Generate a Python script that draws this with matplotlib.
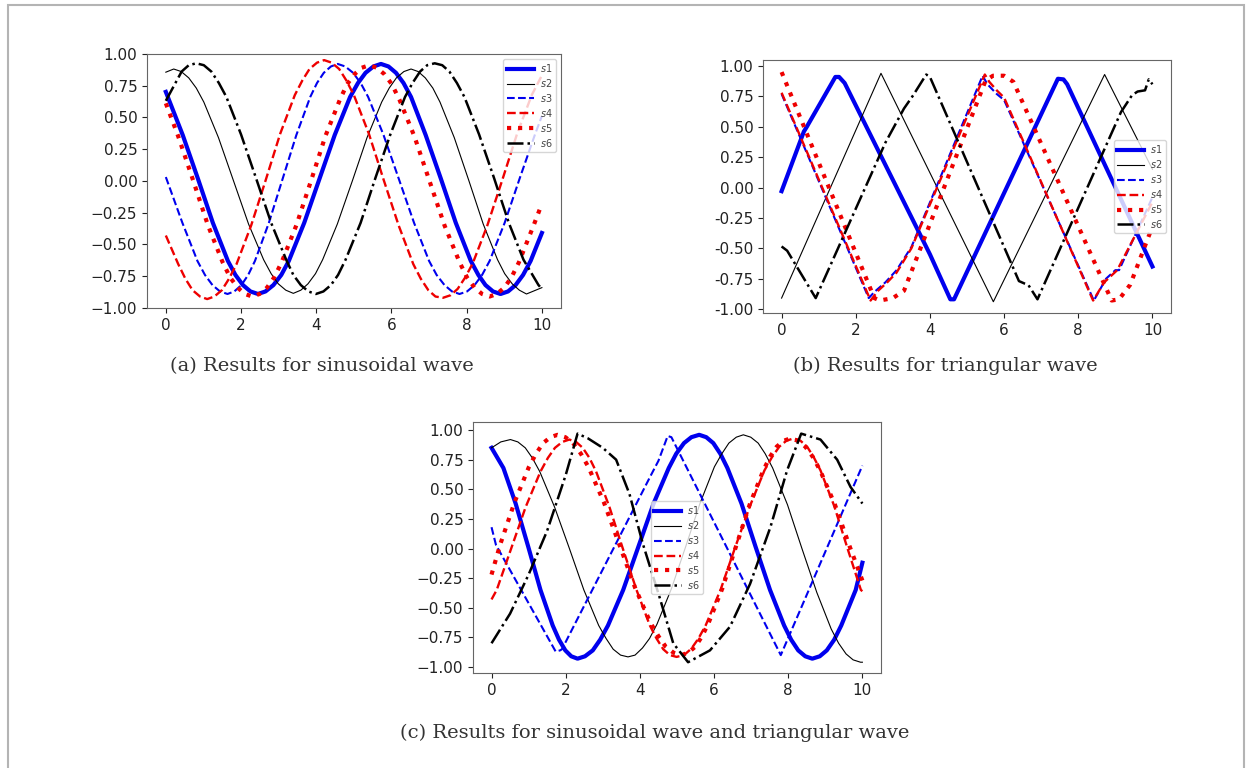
import matplotlib
matplotlib.use('Agg')
import matplotlib.pyplot as plt
from matplotlib.patches import Rectangle
from matplotlib.ticker import FormatStrFormatter

# ---- (a) sinusoidal wave ----
a_s1_x = [0, 0.45, 0.85, 1.25, 1.65, 1.85, 2.05, 2.25, 2.45, 2.65, 2.86, 3.07, 3.27, 3.68, 4.09, 4.49, 4.90,
          5.11, 5.31, 5.52, 5.72, 5.92, 6.12, 6.32, 6.52, 6.91, 7.31, 7.71, 8.11, 8.31, 8.50, 8.70, 8.90,
          9.10, 9.30, 9.50, 9.70, 10.0]
a_s1_y = [0.70, 0.36, 0.02, -0.33, -0.63, -0.74, -0.82, -0.87, -0.89, -0.87, -0.82, -0.74, -0.63, -0.33, 0.02, 0.36, 0.66,
          0.77, 0.85, 0.90, 0.92, 0.90, 0.85, 0.77, 0.66, 0.36, 0.02, -0.33, -0.63, -0.74, -0.82, -0.87, -0.89,
          -0.87, -0.82, -0.74, -0.63, -0.41]
a_s2_x = [0, 0.21, 0.41, 0.61, 0.81, 1.01, 1.40, 1.80, 2.20, 2.60, 2.80, 2.99, 3.19, 3.39, 3.59, 3.78, 3.98,
          4.17, 4.56, 4.96, 5.35, 5.74, 5.94, 6.13, 6.33, 6.52, 6.71, 6.90, 7.10, 7.29, 7.67, 8.06, 8.44,
          8.82, 9.01, 9.21, 9.40, 9.59, 10.0]
a_s2_y = [0.855, 0.88, 0.86, 0.81, 0.73, 0.62, 0.34, 0, -0.34, -0.62, -0.73, -0.81, -0.86, -0.885, -0.86, -0.81, -0.73,
          -0.62, -0.34, 0, 0.34, 0.62, 0.73, 0.81, 0.86, 0.88, 0.86, 0.81, 0.73, 0.62, 0.34, 0, -0.34,
          -0.62, -0.73, -0.81, -0.86, -0.89, -0.84]
a_s3_x = [0, 0.44, 0.84, 1.04, 1.24, 1.44, 1.64, 1.82, 2.01, 2.19, 2.37, 2.74, 3.11, 3.47, 3.84, 4.02, 4.20,
          4.39, 4.57, 4.77, 4.98, 5.18, 5.38, 5.79, 6.19, 6.60, 7.00, 7.20, 7.41, 7.61, 7.81, 8.01, 8.21,
          8.41, 8.61, 9.01, 9.41, 9.81, 10.0]
a_s3_y = [0.03, -0.33, -0.63, -0.74, -0.82, -0.87, -0.89, -0.87, -0.82, -0.74, -0.63, -0.33, 0.02, 0.36, 0.66, 0.77, 0.85,
          0.90, 0.92, 0.90, 0.85, 0.77, 0.66, 0.36, 0.02, -0.33, -0.63, -0.74, -0.82, -0.87, -0.89, -0.87, -0.82,
          -0.74, -0.63, -0.33, 0.02, 0.36, 0.51]
a_s4_x = [0, 0.33, 0.52, 0.71, 0.91, 1.10, 1.29, 1.49, 1.68, 1.88, 2.27, 2.66, 3.04, 3.43, 3.63, 3.82, 4.02,
          4.21, 4.41, 4.61, 4.80, 5.00, 5.40, 5.79, 6.19, 6.58, 6.78, 6.98, 7.17, 7.37, 7.57, 7.76, 7.96,
          8.16, 8.55, 8.95, 9.34, 9.73, 10.0]
a_s4_y = [-0.43, -0.655, -0.77, -0.86, -0.91, -0.93, -0.91, -0.86, -0.77, -0.655, -0.35, 0.01, 0.37, 0.675, 0.79, 0.88, 0.93,
          0.95, 0.93, 0.88, 0.79, 0.675, 0.37, 0.01, -0.35, -0.655, -0.77, -0.86, -0.91, -0.92, -0.90, -0.85, -0.76,
          -0.65, -0.35, 0.01, 0.37, 0.675, 0.83]
a_s5_x = [0, 0.33, 0.73, 1.12, 1.51, 1.71, 1.91, 2.10, 2.30, 2.49, 2.69, 2.88, 3.08, 3.47, 3.86, 4.24, 4.63,
          4.82, 5.02, 5.21, 5.41, 5.61, 5.81, 6.01, 6.21, 6.61, 7.01, 7.41, 7.81, 8.01, 8.21, 8.41, 8.61,
          8.80, 9.00, 9.19, 9.39, 9.78, 10.0]
a_s5_y = [0.61, 0.35, 0, -0.35, -0.64, -0.76, -0.84, -0.89, -0.91, -0.89, -0.84, -0.76, -0.64, -0.35, 0, 0.35, 0.64,
          0.76, 0.84, 0.89, 0.91, 0.89, 0.84, 0.76, 0.64, 0.35, 0, -0.35, -0.64, -0.76, -0.84, -0.89, -0.91,
          -0.89, -0.84, -0.76, -0.64, -0.35, -0.18]
a_s6_x = [0, 0.42, 0.61, 0.81, 1.01, 1.21, 1.41, 1.61, 2.00, 2.40, 2.80, 3.20, 3.39, 3.59, 3.79, 3.99, 4.19,
          4.39, 4.58, 4.78, 5.18, 5.57, 5.97, 6.36, 6.56, 6.76, 6.95, 7.15, 7.35, 7.54, 7.74, 7.94, 8.33,
          8.73, 9.12, 9.51, 9.91, 10.0]
a_s6_y = [0.63, 0.86, 0.91, 0.925, 0.91, 0.86, 0.77, 0.66, 0.365, 0.02, -0.33, -0.62, -0.74, -0.82, -0.87, -0.89, -0.87,
          -0.82, -0.74, -0.62, -0.33, 0.02, 0.365, 0.66, 0.77, 0.86, 0.91, 0.925, 0.91, 0.86, 0.77, 0.66, 0.365,
          0.02, -0.33, -0.62, -0.82, -0.85]

# ---- (b) triangular wave ----
b_s1_x = [0, 0.6, 0.68, 1.45, 1.55, 1.7, 4.0, 4.55, 4.65, 7.45, 7.6, 7.7, 10.0]
b_s1_y = [-0.03, 0.46, 0.50, 0.91, 0.91, 0.86, -0.55, -0.92, -0.92, 0.895, 0.89, 0.85, -0.65]
b_s2_x = [0, 2.68, 5.71, 8.71, 10.0]
b_s2_y = [-0.91, 0.94, -0.94, 0.93, 0.15]
b_s3_x = [0, 2.35, 2.5, 2.8, 3.1, 3.5, 5.42, 5.55, 5.8, 6.0, 8.42, 8.75, 9.0, 9.1, 10.0]
b_s3_y = [0.77, -0.91, -0.86, -0.78, -0.68, -0.49, 0.92, 0.85, 0.77, 0.72, -0.93, -0.75, -0.68, -0.68, -0.08]
b_s4_x = [0, 2.4, 2.6, 2.85, 3.1, 3.5, 5.48, 5.6, 5.8, 6.0, 8.4, 8.7, 9.05, 10.0]
b_s4_y = [0.78, -0.93, -0.85, -0.78, -0.70, -0.50, 0.93, 0.87, 0.80, 0.74, -0.93, -0.78, -0.68, -0.12]
b_s5_x = [0, 2.5, 2.65, 3.0, 3.3, 5.5, 5.7, 6.0, 6.25, 8.9, 9.1, 9.4, 10.0]
b_s5_y = [0.95, -0.91, -0.93, -0.91, -0.85, 0.88, 0.92, 0.92, 0.87, -0.93, -0.92, -0.80, -0.32]
b_s6_x = [0, 0.15, 0.92, 2.8, 3.3, 3.55, 3.9, 4.0, 6.4, 6.55, 6.65, 6.9, 9.15, 9.45, 9.6, 9.8, 9.9, 10.0]
b_s6_y = [-0.485, -0.52, -0.91, 0.37, 0.65, 0.76, 0.93, 0.91, -0.77, -0.79, -0.80, -0.92, 0.62, 0.76, 0.79, 0.80, 0.89, 0.85]

# ---- (c) sinusoidal + triangular wave ----
c_s1_x = [0, 0.32, 0.65, 0.99, 1.32, 1.65, 1.82, 1.99, 2.15, 2.32, 2.52, 2.73, 2.93, 3.14, 3.55, 3.96, 4.37,
          4.78, 4.98, 5.19, 5.39, 5.60, 5.79, 5.98, 6.17, 6.36, 6.74, 7.12, 7.51, 7.89, 8.08, 8.27, 8.46,
          8.65, 8.85, 9.04, 9.24, 9.43, 9.82, 10.0]
c_s1_y = [0.85, 0.68, 0.38, 0.015, -0.35, -0.65, -0.77, -0.86, -0.91, -0.93, -0.91, -0.86, -0.77, -0.65, -0.35, 0.015, 0.38,
          0.68, 0.80, 0.89, 0.94, 0.96, 0.94, 0.89, 0.80, 0.68, 0.38, 0.015, -0.35, -0.65, -0.77, -0.86, -0.91,
          -0.93, -0.91, -0.86, -0.77, -0.65, -0.35, -0.12]
c_s2_x = [0, 0.25, 0.51, 0.71, 0.91, 1.10, 1.30, 1.70, 2.10, 2.49, 2.89, 3.09, 3.28, 3.48, 3.68, 3.87, 4.07,
          4.26, 4.46, 4.85, 5.24, 5.62, 6.01, 6.21, 6.40, 6.60, 6.79, 6.99, 7.19, 7.38, 7.58, 7.98, 8.37,
          8.77, 9.16, 9.36, 9.56, 9.75, 9.95, 10.0]
c_s2_y = [0.85, 0.90, 0.92, 0.90, 0.85, 0.765, 0.65, 0.35, 0.0, -0.35, -0.65, -0.76, -0.85, -0.90, -0.915, -0.90, -0.84,
          -0.76, -0.64, -0.34, 0.02, 0.38, 0.69, 0.80, 0.89, 0.94, 0.96, 0.94, 0.89, 0.80, 0.68, 0.37, 0.0,
          -0.37, -0.68, -0.80, -0.89, -0.94, -0.96, -0.96]
c_s3_x = [0, 0.12, 1.73, 1.85, 1.9, 4.3, 4.5, 4.75, 4.85, 7.8, 10.0]
c_s3_y = [0.18, 0.03, -0.87, -0.86, -0.85, 0.62, 0.74, 0.95, 0.94, -0.90, 0.70]
c_s4_x = [0, 0.14, 0.53, 0.92, 1.32, 1.52, 1.71, 1.91, 2.10, 2.28, 2.46, 2.64, 2.82, 3.18, 3.54, 3.91, 4.27,
          4.45, 4.63, 4.81, 4.99, 5.19, 5.39, 5.58, 5.78, 6.18, 6.57, 6.97, 7.36, 7.56, 7.76, 7.95, 8.15,
          8.33, 8.51, 8.69, 8.87, 9.24, 9.60, 9.96, 10.0]
c_s4_y = [-0.43, -0.35, 0.0, 0.35, 0.65, 0.765, 0.85, 0.90, 0.92, 0.90, 0.85, 0.765, 0.65, 0.35, 0.0, -0.35, -0.65,
          -0.76, -0.85, -0.90, -0.915, -0.90, -0.845, -0.76, -0.645, -0.345, 0.01, 0.36, 0.66, 0.77, 0.86, 0.91, 0.93,
          0.91, 0.86, 0.77, 0.66, 0.36, 0.0, -0.35, -0.36]
c_s5_x = [0, 0.23, 0.62, 1.01, 1.20, 1.39, 1.59, 1.78, 1.99, 2.20, 2.41, 2.61, 3.03, 3.45, 3.87, 4.29, 4.50,
          4.70, 4.91, 5.12, 5.30, 5.49, 5.67, 5.85, 6.22, 6.59, 6.96, 7.33, 7.51, 7.69, 7.88, 8.06, 8.26,
          8.46, 8.66, 8.86, 9.26, 9.66, 10.0]
c_s5_y = [-0.22, 0.03, 0.39, 0.69, 0.80, 0.89, 0.94, 0.96, 0.94, 0.89, 0.80, 0.69, 0.39, 0.03, -0.33, -0.63, -0.74,
          -0.83, -0.88, -0.90, -0.88, -0.83, -0.745, -0.63, -0.34, 0.015, 0.37, 0.66, 0.775, 0.86, 0.91, 0.93, 0.91,
          0.86, 0.775, 0.66, 0.37, 0.015, -0.27]
c_s6_x = [0, 0.5, 1.0, 1.5, 2.0, 2.32, 2.6, 3.0, 3.36, 3.72, 4.08, 4.53, 4.9, 5.3,
          5.89, 6.43, 6.97, 7.52, 7.97, 8.35, 8.87, 9.32, 9.68, 10.0]
c_s6_y = [-0.80, -0.55, -0.22, 0.15, 0.62, 0.97, 0.93, 0.85, 0.75, 0.46, 0.04, -0.41, -0.80, -0.96,
          -0.86, -0.66, -0.30, 0.18, 0.66, 0.97, 0.92, 0.75, 0.52, 0.38]

labels = ['$s1$', '$s2$', '$s3$', '$s4$', '$s5$', '$s6$']
styles = [dict(color='#0000ee', ls='-', lw=3.0),
          dict(color='k', ls='-', lw=0.8),
          dict(color='#0000ee', ls='--', lw=1.5),
          dict(color='#ee0000', ls='--', lw=1.7),
          dict(color='#ee0000', ls=':', lw=3.0),
          dict(color='k', ls='-.', lw=1.8)]

panels = [
    ([0.118, 0.599, 0.332, 0.331], (-1.0, 1.0), 'upper right',
     [(a_s1_x, a_s1_y), (a_s2_x, a_s2_y), (a_s3_x, a_s3_y), (a_s4_x, a_s4_y), (a_s5_x, a_s5_y), (a_s6_x, a_s6_y)]),
    ([0.6124, 0.5924, 0.3274, 0.3294], (-1.033, 1.049), 'center right',
     [(b_s1_x, b_s1_y), (b_s2_x, b_s2_y), (b_s3_x, b_s3_y), (b_s4_x, b_s4_y), (b_s5_x, b_s5_y), (b_s6_x, b_s6_y)]),
    ([0.3796, 0.1237, 0.3274, 0.3268], (-1.051, 1.068), 'center',
     [(c_s1_x, c_s1_y), (c_s2_x, c_s2_y), (c_s3_x, c_s3_y), (c_s4_x, c_s4_y), (c_s5_x, c_s5_y), (c_s6_x, c_s6_y)]),
]

fig = plt.figure(figsize=(12.46, 7.68), dpi=100)
fig.patches.append(Rectangle((0.0064, -0.05), 0.9920, 1.0435, transform=fig.transFigure,
                             fill=False, edgecolor='#b4b4b4', lw=1.5))

axes = []
for rect, ylim, loc, series in panels:
    ax = fig.add_axes(rect)
    for (xs, ys), st, lab in zip(series, styles, labels):
        ax.plot(xs, ys, label=lab, **st)
    ax.set_xlim(-0.5, 10.5)
    ax.set_ylim(*ylim)
    ax.set_xticks([0, 2, 4, 6, 8, 10])
    ax.set_yticks([-1.0, -0.75, -0.5, -0.25, 0.0, 0.25, 0.5, 0.75, 1.0])
    ax.tick_params(labelsize=11, colors='#222222')
    for sp in ax.spines.values():
        sp.set_color('#666666')
    ax.legend(loc=loc, fontsize=7, labelcolor='#444444', handlelength=2.8,
              labelspacing=0.3, borderpad=0.35, handletextpad=0.6)
    axes.append(ax)

# panel b uses plain hyphen minus signs
axes[1].yaxis.set_major_formatter(FormatStrFormatter('%.2f'))

cap = dict(family='DejaVu Serif', fontsize=14, color='#333333', ha='center', va='center')
fig.text(0.2584, 0.5234, '(a) Results for sinusoidal wave', **cap)
fig.text(0.759, 0.5234, '(b) Results for triangular wave', **cap)
fig.text(0.5257, 0.0456, '(c) Results for sinusoidal wave and triangular wave', **cap)

fig.savefig('out.png', dpi=100)
